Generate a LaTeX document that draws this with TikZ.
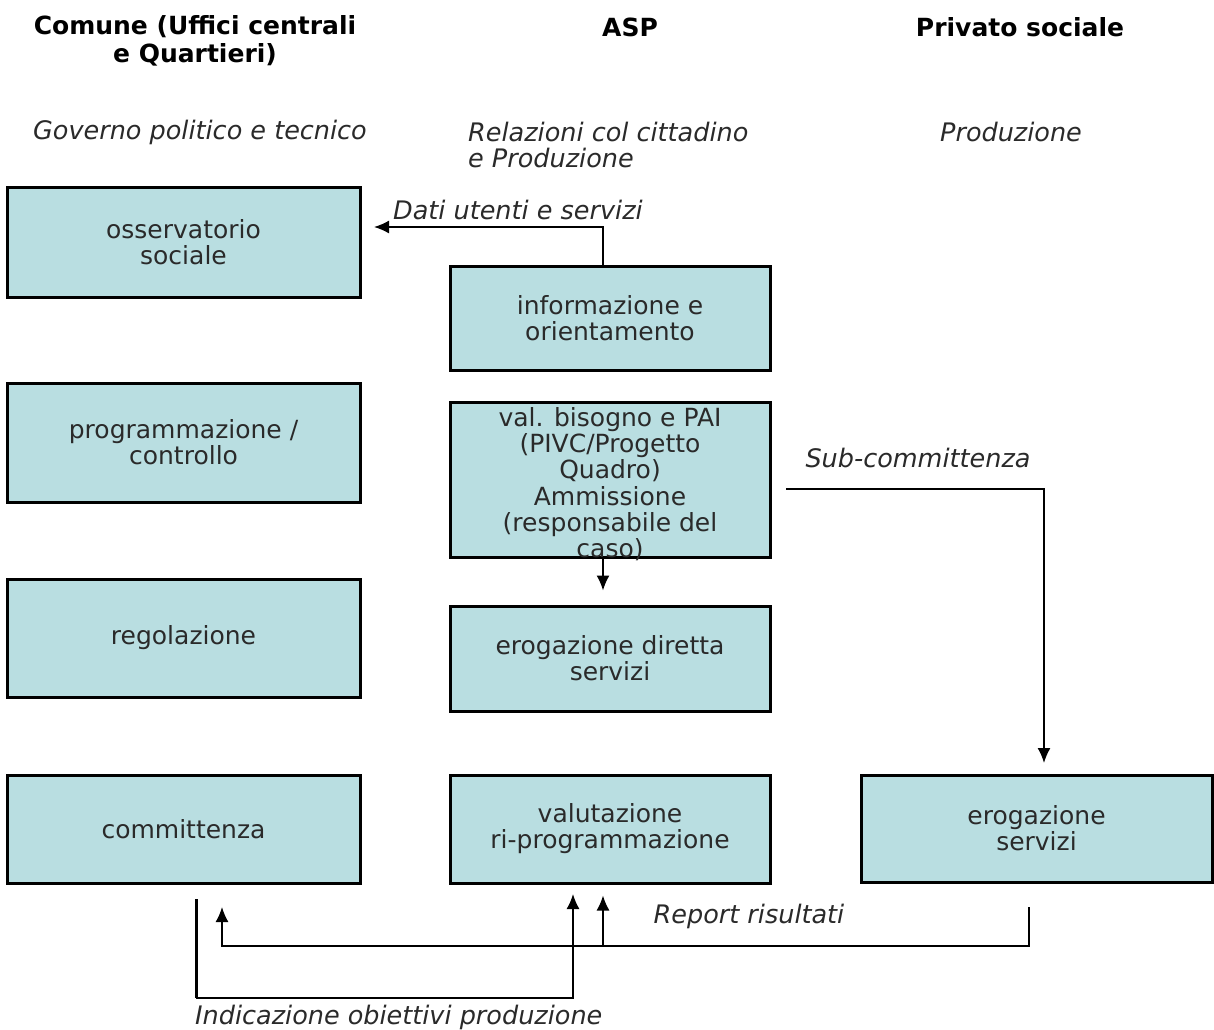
\documentclass[tikz,border=0pt]{standalone}
\usepackage{fontspec}
\setmainfont{DejaVu Sans}
\usetikzlibrary{arrows.meta}
\definecolor{boxfill}{HTML}{B9DEE1}
\definecolor{txt}{HTML}{2A2A2A}
\begin{document}
\begin{tikzpicture}[x=1pt,y=-1pt,
  box/.style={draw=black, line width=3pt, fill=boxfill, align=center, inner sep=0pt,
    font=\fontsize{25}{26}\selectfont, text=txt},
  boxtext/.style={align=center, inner sep=0pt, font=\fontsize{25}{26.3}\selectfont, text=txt},
  head/.style={align=center, inner sep=0pt, font=\bfseries\fontsize{25}{28}\selectfont},
  sub/.style={inner sep=0pt, font=\itshape\fontsize{25.5}{26}\selectfont, text=txt},
  arr/.style={line width=1.6pt, -{Latex[length=15pt,width=13pt]}}]
\useasboundingbox (0,0) rectangle (1214,1029);

% headers
\node[head] (hcom) at (195,41) {Comune (Uffici centrali\\e Quartieri)};
\node[head] (hasp) at (630,27) {ASP};
\node[head] (hpri) at (1020,27) {Privato sociale};
\node[sub] (scom) at (200,132) {Governo politico e tecnico};
\node[sub, align=left, anchor=west] (sasp) at (468,145) {Relazioni col cittadino\\e Produzione};
\node[sub] (spri) at (1011,132) {Produzione};

% boxes
\node[box, minimum width=353, minimum height=110] (oss) at (183.5,242) {osservatorio\\sociale};
\node[box, minimum width=353, minimum height=119] (prog) at (183.5,442.5) {programmazione /\\controllo};
\node[box, minimum width=353, minimum height=118] (reg) at (183.5,638) {regolazione};
\node[box, minimum width=353, minimum height=108] (comm) at (183.5,829) {committenza};

\node[box, minimum width=320, minimum height=104] (info) at (610,318) {informazione e\\orientamento};
\node[box, minimum width=320, minimum height=155] (val) at (610,479.5) {};
\node[boxtext] (valtxt) at (610,484) {val. bisogno e PAI\\(PIVC/Progetto\\Quadro)\\Ammissione\\(responsabile del\\caso)};
\node[box, minimum width=320, minimum height=105] (edir) at (610,658.5) {erogazione diretta\\servizi};
\node[box, minimum width=320, minimum height=108] (valut) at (610,829) {valutazione\\ri-programmazione};

\node[box, minimum width=351, minimum height=107] (eserv) at (1036.5,828.5) {erogazione\\servizi};

% labels
\node[sub, anchor=west] (ldati) at (393,210) {Dati utenti e servizi};
\node[sub] (lsub) at (918,458) {Sub-committenza};
\node[sub] (lrep) at (749,916) {Report risultati};
\node[sub, anchor=west] (lind) at (195,1017) {Indicazione obiettivi produzione};

% coordinates for connector ends
\coordinate (dtip) at (374,227);
\coordinate (sstart) at (786,489);
\coordinate (stip) at (1044,763);
\coordinate (rstart) at (1029,907);
\coordinate (rbot) at (1029,946);
\coordinate (rtipL) at (222,907);
\coordinate (rbr) at (603,946);
\coordinate (itop) at (196,899);
\coordinate (ibot) at (196,998);
\coordinate (itip) at (573,894);

% connectors
\draw[arr] ([xshift=-7pt]info.north) |- (dtip);
\draw[arr] ([xshift=-7pt]val.south) -- ([xshift=-7pt,yshift=14pt]edir.north);
\draw[arr] (sstart) -| (stip);
\draw[arr] (rstart) -- (rbot) -| (rtipL);
\draw[arr] (rbr) -- ([xshift=-7pt,yshift=-11pt]valut.south);
\draw[line width=3pt] (itop) -- (ibot);
\draw[arr] (ibot) -| (itip);
\end{tikzpicture}
\end{document}
